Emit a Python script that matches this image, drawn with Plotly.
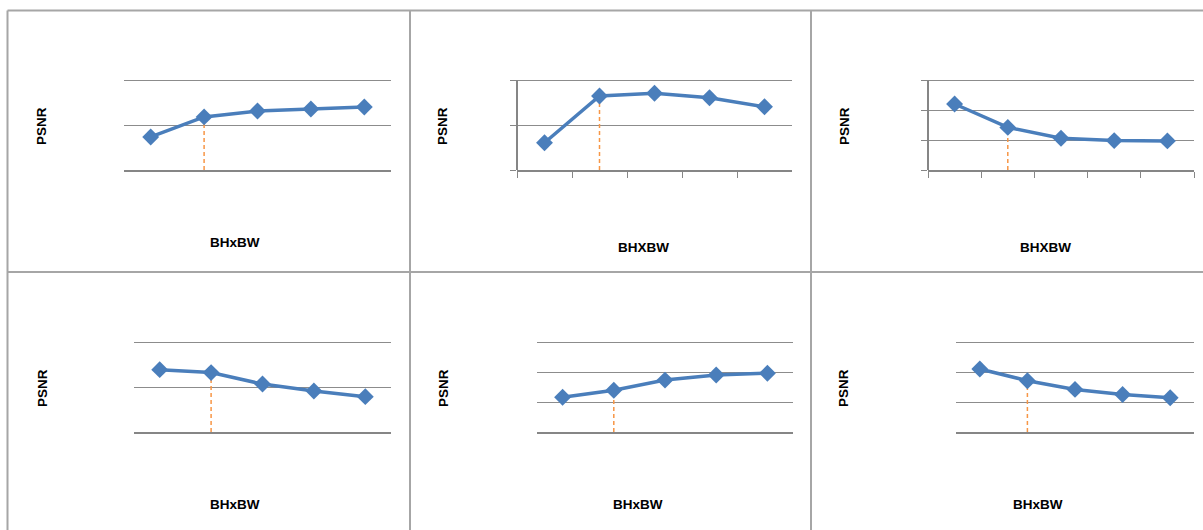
import plotly.graph_objects as go

W, H = 1203, 530

block_sizes = ["4x4", "8x8", "16x16", "32x32", "64x64"]

psnr_1 = [31.47, 32.36, 32.62, 32.71, 32.80]
psnr_2 = [31.21, 33.29, 33.41, 33.21, 32.81]
psnr_3 = [31.20, 30.42, 30.06, 29.98, 29.97]
psnr_4 = [32.77, 32.64, 32.13, 31.82, 31.57]
psnr_5 = [30.16, 30.39, 30.73, 30.90, 30.96]
psnr_6 = [31.10, 30.71, 30.42, 30.25, 30.14]

x_titles = ["BHxBW", "BHXBW", "BHXBW", "BHxBW", "BHxBW", "BHxBW"]
y_title = "PSNR"
selected_index = 1

series = [psnr_1, psnr_2, psnr_3, psnr_4, psnr_5, psnr_6]
y_ticks = [
    [30, 32, 34],
    [30, 32, 34],
    [29, 30, 31, 32],
    [30, 32, 34],
    [29, 30, 31, 32],
    [29, 30, 31, 32],
]

# layout (pixel boxes: left, right, top, bottom)
boxes = [
    (124, 391, 80, 170),
    (517, 792, 80, 170),
    (928, 1194, 80, 170),
    (134, 391, 342, 432),
    (537, 793, 342, 432),
    (956, 1194, 342, 432),
]
y_axis_line = [False, True, True, False, False, False]
ytitle_pos = [(42, 126), (443, 126), (845, 126), (42, 388), (443, 388), (843, 388)]
xtitle_pos = [(235, 242), (643, 247), (1045, 247), (235, 504), (638, 504), (1038, 504)]
PAD = 3  # px of headroom so the top gridline is drawn

BLUE = "#4A7EBB"
ORANGE = "#F79646"
GRID = "#8C8C8C"
AXIS = "#868686"
BORDER = "#A6A6A6"
FONT = "Liberation Sans"

fig = go.Figure()
layout = dict(
    width=W, height=H, margin=dict(l=0, r=0, t=0, b=0),
    paper_bgcolor="white", plot_bgcolor="white", showlegend=False,
    annotations=[], shapes=[],
)

for i, vals in enumerate(series):
    n = i + 1
    xa = "x" if n == 1 else f"x{n}"
    ya = "y" if n == 1 else f"y{n}"
    l, r, t, b = boxes[i]
    ticks = y_ticks[i]
    span = ticks[-1] - ticks[0]
    hi = ticks[-1] + span * PAD / (b - t)
    fig.add_trace(go.Scatter(
        x=[block_sizes[selected_index], block_sizes[selected_index]],
        y=[ticks[0], vals[selected_index]],
        mode="lines", line=dict(color=ORANGE, width=1.5, dash="4px,3px"),
        xaxis=xa, yaxis=ya, hoverinfo="skip",
    ))
    fig.add_trace(go.Scatter(
        x=block_sizes, y=vals, mode="lines+markers",
        line=dict(color=BLUE, width=3.5),
        marker=dict(symbol="diamond", size=13, color=BLUE),
        xaxis=xa, yaxis=ya,
    ))
    xkey = "xaxis" if n == 1 else f"xaxis{n}"
    ykey = "yaxis" if n == 1 else f"yaxis{n}"
    layout[xkey] = dict(
        domain=[l / W, r / W], anchor=ya, type="category",
        categoryorder="array", categoryarray=block_sizes,
        range=[-0.5, len(block_sizes) - 0.5],
        showticklabels=False, showgrid=False, zeroline=False,
        showline=True, linecolor=AXIS, linewidth=2,
        ticks="outside" if y_axis_line[i] else "", tickson="boundaries",
        ticklen=6, tickcolor=AXIS, tickwidth=1,
    )
    layout[ykey] = dict(
        domain=[1 - b / H, 1 - (t - PAD) / H], anchor=xa,
        range=[ticks[0], hi], tickmode="array", tickvals=ticks,
        showticklabels=False, showgrid=True, gridcolor=GRID, gridwidth=1.2,
        zeroline=False, showline=False,
        ticks="outside" if y_axis_line[i] else "", ticklen=6,
        tickcolor=AXIS, tickwidth=1,
    )
    if y_axis_line[i]:
        layout["shapes"].append(dict(
            type="line", xref=f"{xa} domain", yref=ya,
            x0=0, x1=0, y0=ticks[0], y1=ticks[-1],
            line=dict(color=AXIS, width=2),
        ))
    px, py = ytitle_pos[i]
    layout["annotations"].append(dict(
        x=px / W, y=1 - py / H, xref="paper", yref="paper", text=f"<b>{y_title}</b>",
        textangle=-90, showarrow=False, xanchor="center", yanchor="middle",
        font=dict(family=FONT, size=13.5, color="#000000"),
    ))
    qx, qy = xtitle_pos[i]
    layout["annotations"].append(dict(
        x=qx / W, y=1 - qy / H, xref="paper", yref="paper", text=f"<b>{x_titles[i]}</b>",
        showarrow=False, xanchor="center", yanchor="middle",
        font=dict(family=FONT, size=13.5, color="#000000"),
    ))

def pline(x0, y0, x1, y1):
    return dict(type="line", xref="paper", yref="paper",
                x0=x0 / W, y0=1 - y0 / H, x1=x1 / W, y1=1 - y1 / H,
                line=dict(color=BORDER, width=2))

layout["shapes"] += [
    pline(7.5, 10.5, W, 10.5),
    pline(7.5, 10.5, 7.5, H),
    pline(410, 10.5, 410, H),
    pline(811, 10.5, 811, H),
    pline(7.5, 272, W, 272),
]

fig.update_layout(**layout)
fig.write_html("out.html", config={"displayModeBar": False},
               post_script="document.body.style.margin='0';")
